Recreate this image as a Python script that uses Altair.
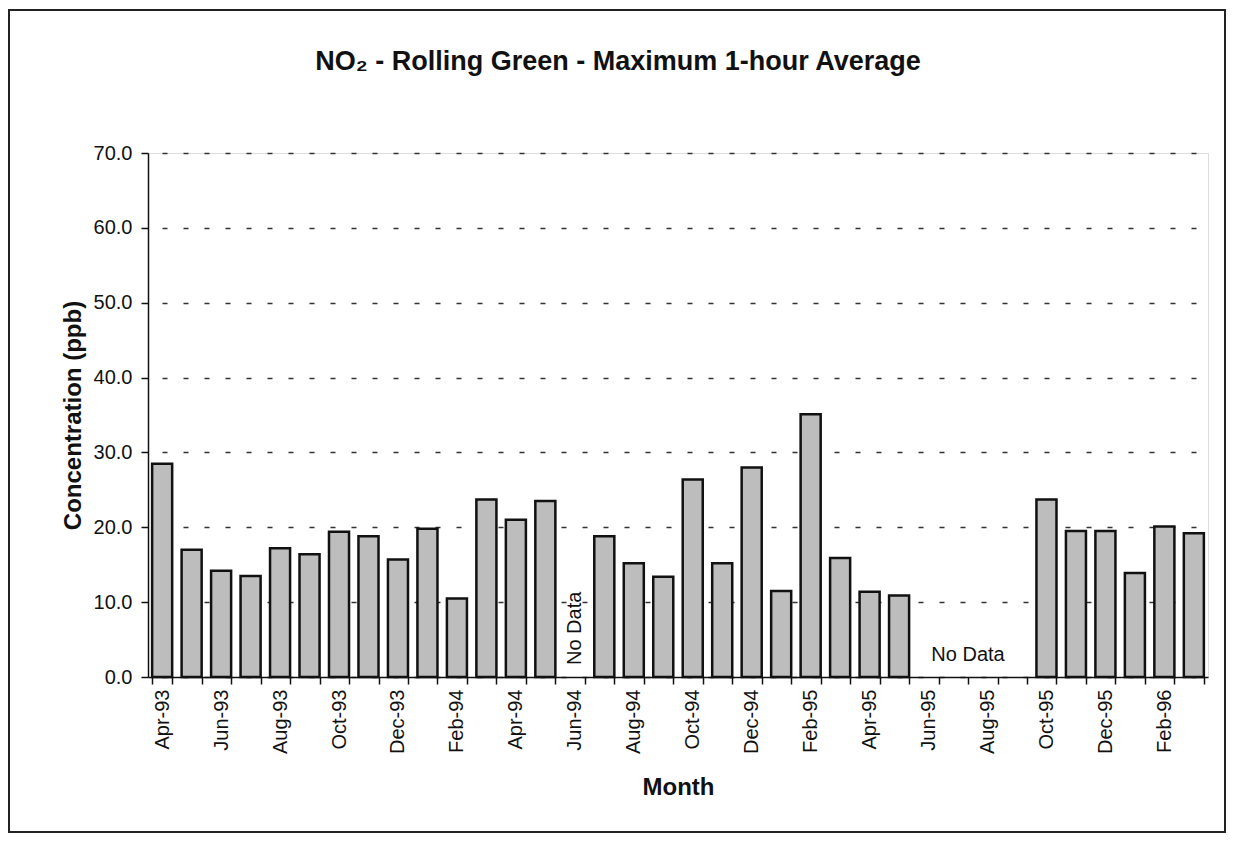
import altair as alt
import pandas as pd

months = ["Apr-93", "May-93", "Jun-93", "Jul-93", "Aug-93", "Sep-93", "Oct-93", "Nov-93",
          "Dec-93", "Jan-94", "Feb-94", "Mar-94", "Apr-94", "May-94", "Jun-94", "Jul-94",
          "Aug-94", "Sep-94", "Oct-94", "Nov-94", "Dec-94", "Jan-95", "Feb-95", "Mar-95",
          "Apr-95", "May-95", "Jun-95", "Jul-95", "Aug-95", "Sep-95", "Oct-95", "Nov-95",
          "Dec-95", "Jan-96", "Feb-96", "Mar-96"]
values = [28.5, 17.0, 14.2, 13.5, 17.2, 16.4, 19.4, 18.8,
          15.7, 19.8, 10.5, 23.7, 21.0, 23.5, None, 18.8,
          15.2, 13.4, 26.4, 15.2, 28.0, 11.5, 35.1, 15.9,
          11.4, 10.9, None, None, None, None, 23.7, 19.5,
          19.5, 13.9, 20.1, 19.2]
y_ticks = [0, 10, 20, 30, 40, 50, 60, 70]

note_vertical_month = ["Jun-94"]
note_vertical_value = [1.6]
note_horizontal_month = ["Jul-95"]
note_horizontal_value = [2.9]
note_text = "No Data"

df = pd.DataFrame({"Month": months, "Value": values}).dropna()
df_v = pd.DataFrame({"Month": note_vertical_month, "Value": note_vertical_value, "Label": [note_text]})
df_h = pd.DataFrame({"Month": note_horizontal_month, "Value": note_horizontal_value, "Label": [note_text]})

FONT = "Liberation Sans"
W, H = 1060, 524

x_scale = alt.Scale(domain=months, paddingInner=0.32, paddingOuter=0.14)
y_scale = alt.Scale(domain=[0, 70], nice=False)

x_axis = alt.Axis(
    title="Month", titleFont=FONT, titleFontSize=24, titleFontWeight="bold", titleColor="#111",
    titlePadding=22,
    labelAngle=-90, labelFont=FONT, labelFontSize=20, labelColor="#111", labelPadding=5,
    labelExpr="test(/^(Feb|Apr|Jun|Aug|Oct|Dec)/, datum.value) ? datum.value : ''",
    tickBand="extent", tickSize=7, tickColor="#111", tickWidth=1.5,
    domainColor="#111", domainWidth=1.5, grid=False,
)
y_axis = alt.Axis(
    title="Concentration (ppb)", titleFont=FONT, titleFontSize=24, titleFontWeight="bold",
    titleColor="#111", titlePadding=8,
    values=y_ticks, format=".1f", labelFont=FONT, labelFontSize=20, labelColor="#111",
    labelPadding=9, tickSize=7, tickColor="#111", tickWidth=1.5,
    domainColor="#111", domainWidth=1.5,
    grid=True, gridDash=[5, 16], gridColor="#333", gridWidth=1.5, gridDashOffset=-14,
)

bars = alt.Chart(df).mark_bar(fill="#bdbdbd", stroke="#111", strokeWidth=2.5).encode(
    x=alt.X("Month:N", scale=x_scale, axis=x_axis, sort=months),
    y=alt.Y("Value:Q", scale=y_scale, axis=y_axis),
)

txt_v = alt.Chart(df_v).mark_text(angle=270, align="left", baseline="middle",
                                   font=FONT, fontSize=20, color="#111").encode(
    x=alt.X("Month:N", scale=x_scale, sort=months),
    y=alt.Y("Value:Q", scale=y_scale),
    text="Label:N",
)
txt_h = alt.Chart(df_h).mark_text(align="center", baseline="middle", dx=10,
                                   font=FONT, fontSize=20, color="#111").encode(
    x=alt.X("Month:N", scale=x_scale, sort=months),
    y=alt.Y("Value:Q", scale=y_scale),
    text="Label:N",
)

frame = alt.Chart(df_v).mark_rect(fillOpacity=0, stroke="#222", strokeWidth=2).encode(
    x=alt.value(-139), x2=alt.value(1077), y=alt.value(-143), y2=alt.value(679)
)

chart = alt.layer(frame, bars, txt_v, txt_h).properties(
    width=W, height=H,
    title=alt.TitleParams("NO₂ - Rolling Green - Maximum 1-hour Average", font=FONT,
                          fontSize=27, fontWeight="bold", color="#111",
                          anchor="middle", dx=-60, offset=-67),
    autosize=alt.AutoSizeParams(type="none"),
    padding={"left": 140, "top": 145, "right": 19, "bottom": 156},
).configure_view(stroke=None).configure(background="white")

chart.save("out.html", embed_options={"renderer": "svg", "actions": False})
